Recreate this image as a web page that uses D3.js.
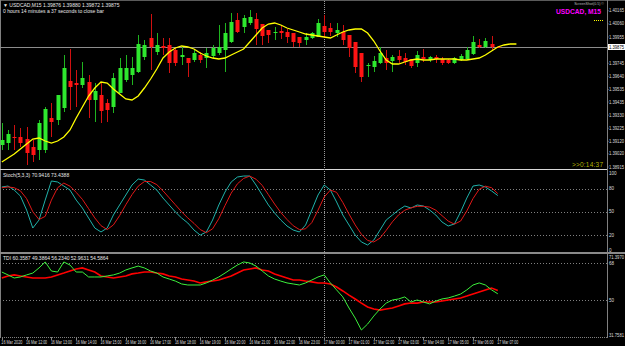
<!DOCTYPE html>
<html>
<head>
<meta charset="utf-8">
<script src="https://cdn.jsdelivr.net/npm/d3@7"></script>
<style>
html, body { margin: 0; padding: 0; background: #000; overflow: hidden; }
svg { display: block; }
text { font-family: "Liberation Sans", Arial, sans-serif; }
</style>
</head>
<body>
<svg id="chart" width="625" height="346"></svg>
<script>
// USDCAD M15, 16 Mar 11:00 -> 17 Mar 07:00 (81 bars)
const opens = [1.39091,1.39107,1.39155,1.39155,1.39139,1.39075,1.39051,1.39051,1.39307,1.39291,
  1.39387,1.39603,1.39587,1.39571,1.39595,1.39451,1.39491,1.39427,1.39395,1.39507,
  1.39611,1.39651,1.39675,1.39795,1.39947,1.39835,1.39883,1.39891,1.39851,1.39795,
  1.39787,1.39771,1.39811,1.39787,1.39803,1.39827,1.39851,1.39915,1.40091,1.40035,
  1.40067,1.40099,1.40059,1.40011,1.39987,1.40003,1.39995,1.39987,1.39955,1.39931,
  1.39947,1.39955,1.40043,1.40027,1.39987,1.39995,1.39971,1.39915,1.39827,1.39723,
  1.39715,1.39747,1.39787,1.39763,1.39803,1.39787,1.39779,1.39747,1.39795,1.39771,
  1.39795,1.39779,1.39771,1.39747,1.39771,1.39779,1.39819,1.39891,1.39875,1.39899,1.39876];
const highs = [1.39267,1.39211,1.39251,1.39227,1.39235,1.39131,1.39291,1.39395,1.39427,1.39491,
  1.39811,1.39859,1.39691,1.39755,1.39651,1.39587,1.39587,1.39459,1.39667,1.39787,
  1.39811,1.39795,1.39971,1.39931,1.40139,1.39987,1.39947,1.39947,1.39867,1.39875,
  1.39787,1.39851,1.39835,1.39867,1.39891,1.40051,1.40067,1.40147,1.40147,1.40131,
  1.40171,1.40147,1.40059,1.40011,1.40035,1.40051,1.40019,1.39987,1.39955,1.39987,
  1.39995,1.40099,1.40131,1.40067,1.40067,1.40051,1.39971,1.39915,1.39827,1.39747,
  1.39803,1.39875,1.39851,1.39811,1.39851,1.39827,1.39779,1.39843,1.39859,1.39803,
  1.39811,1.39795,1.39779,1.39795,1.39819,1.39875,1.39963,1.39939,1.39947,1.39963,1.39880];
const lows = [1.39051,1.39051,1.39051,1.39075,1.38931,1.38955,1.38971,1.39027,1.39155,1.39251,
  1.39355,1.39371,1.39395,1.39547,1.39307,1.39275,1.39267,1.39275,1.39347,1.39507,
  1.39595,1.39571,1.39667,1.39771,1.39691,1.39811,1.39811,1.39667,1.39723,1.39731,
  1.39635,1.39755,1.39747,1.39707,1.39787,1.39811,1.39675,1.39907,1.39987,1.39987,
  1.40051,1.39891,1.39891,1.39907,1.39931,1.39939,1.39907,1.39875,1.39875,1.39891,
  1.39939,1.39955,1.39947,1.39963,1.39955,1.39891,1.39795,1.39667,1.39595,1.39635,
  1.39675,1.39739,1.39691,1.39675,1.39747,1.39731,1.39707,1.39715,1.39755,1.39755,
  1.39747,1.39731,1.39739,1.39739,1.39763,1.39771,1.39811,1.39867,1.39867,1.39843,1.39872];
const closes = [1.39131,1.39179,1.39147,1.39107,1.39027,1.39011,1.39267,1.39379,1.39275,1.39491,
  1.39707,1.39555,1.39571,1.39627,1.39451,1.39523,1.39363,1.39371,1.39627,1.39707,
  1.39707,1.39707,1.39899,1.39891,1.39875,1.39891,1.39867,1.39747,1.39747,1.39811,
  1.39747,1.39827,1.39771,1.39827,1.39867,1.39875,1.39987,1.40075,1.39995,1.40107,
  1.40115,1.40019,1.39963,1.39971,1.39995,1.39987,1.39955,1.39915,1.39907,1.39955,
  1.39987,1.40067,1.39995,1.39995,1.40011,1.39931,1.39867,1.39715,1.39635,1.39731,
  1.39763,1.39827,1.39747,1.39795,1.39771,1.39755,1.39723,1.39811,1.39779,1.39795,
  1.39779,1.39747,1.39747,1.39787,1.39803,1.39851,1.39915,1.39875,1.39923,1.39875,1.39875];

// moving average, drawn with a forward shift of 3 bars (84 points)
const maValues = [1.38955,1.38987,1.39019,1.39059,1.39099,1.39139,1.39147,1.39123,1.39107,1.39123,
  1.39155,1.39211,1.39307,1.39395,1.39483,1.39547,1.39595,1.39587,1.39539,1.39499,
  1.39459,1.39451,1.39483,1.39547,1.39619,1.39699,1.39787,1.39835,1.39867,1.39883,
  1.39875,1.39859,1.39827,1.39803,1.39787,1.39779,1.39787,1.39811,1.39835,1.39859,
  1.39915,1.39971,1.40027,1.40059,1.40067,1.40051,1.40027,1.40011,1.39995,1.39979,
  1.39971,1.39963,1.39955,1.39947,1.39971,1.39995,1.40011,1.40019,1.40019,1.39987,
  1.39923,1.39843,1.39771,1.39739,1.39739,1.39755,1.39771,1.39779,1.39771,1.39771,
  1.39779,1.39779,1.39779,1.39779,1.39771,1.39771,1.39779,1.39787,1.39811,1.39843,
  1.39875,1.39891,1.39899,1.39899];

const stochMain = [81.9,83.2,78.0,70.3,52.2,29.0,39.3,65.1,89.7,88.4,
  83.2,78.0,65.1,54.8,41.9,29.0,23.9,29.0,45.8,58.7,
  71.6,84.5,92.2,90.9,84.5,78.0,67.7,58.7,49.7,41.9,
  35.5,26.4,19.9,23.9,39.3,58.7,75.5,88.4,94.8,96.1,
  96.1,84.5,71.6,58.7,48.4,39.3,31.6,26.4,23.9,32.9,
  52.2,71.6,84.5,78.0,62.6,45.8,32.9,19.9,11.0,7.1,
  13.5,26.4,39.3,45.8,52.2,57.4,54.8,58.7,57.4,52.2,
  45.8,36.8,31.6,34.2,49.7,67.7,83.2,84.5,81.9,76.8,70.9];
const stochSignal = [81,82,81,77,67,50,40,44,65,81,
  87,83,75,66,54,42,32,27,33,45,
  59,72,83,89,89,85,77,68,59,50,
  42,35,27,23,28,41,58,74,86,93,
  96,92,84,72,60,49,40,32,27,28,
  36,52,69,78,75,62,47,33,21,13,
  11,16,26,37,46,52,55,57,57,56,
  52,45,38,34,38,51,67,79,83,81,73.4];

const tdiGreen = [63.6,62.2,60.7,61.2,62.2,63.1,65.6,68.5,64.1,63.6,
  68.5,67.0,63.6,63.6,61.2,61.2,61.2,61.7,62.2,63.1,
  64.6,65.6,66.5,65.6,64.1,63.1,61.2,60.2,59.2,57.8,
  57.3,57.3,57.3,58.3,59.7,61.2,63.1,65.1,67.0,68.5,
  68.0,66.5,64.1,61.7,60.2,59.2,58.3,57.8,57.3,58.3,
  59.7,61.2,62.2,58.3,54.9,51.5,46.1,41.2,35.4,38.3,
  42.2,45.6,48.5,50.0,50.5,51.5,49.0,50.0,49.0,48.1,
  49.5,50.5,51.0,51.9,52.9,54.9,57.3,58.3,57.3,54.9,53.0];
const tdiRed = [60.7,61.7,62.2,61.7,61.2,60.7,60.7,60.7,61.2,62.2,
  63.1,64.1,65.1,65.6,64.6,63.6,61.7,61.2,60.7,61.2,
  61.7,62.7,63.1,63.6,63.6,63.1,62.7,61.7,61.2,60.2,
  59.7,59.2,58.3,58.8,59.2,59.7,60.7,61.7,63.1,64.6,
  65.1,65.6,64.6,64.1,62.7,61.7,60.7,59.7,59.7,59.2,
  58.8,58.3,58.3,57.8,56.3,54.4,52.4,50.5,48.5,46.6,
  45.6,45.1,45.6,46.1,47.1,48.1,48.5,48.5,49.0,49.0,
  49.0,49.5,50.0,50.5,51.0,51.9,52.9,53.9,54.9,55.8,54.6];

const timeLabels = ["16 Mar 2020","16 Mar 12:00","16 Mar 13:00","16 Mar 14:00","16 Mar 15:00",
  "16 Mar 16:00","16 Mar 17:00","16 Mar 18:00","16 Mar 19:00","16 Mar 20:00","16 Mar 21:00",
  "16 Mar 22:00","16 Mar 23:00","17 Mar 00:00","17 Mar 01:00","17 Mar 02:00","17 Mar 03:00",
  "17 Mar 04:00","17 Mar 05:00","17 Mar 06:00","17 Mar 07:00"];
const priceTicks = [1.40165,1.40060,1.39955,1.39745,1.39640,1.39535,1.39435,1.39330,1.39225,1.39120,1.39020,1.38915];
const stochLevels = [80, 50, 20];
const stochTicks = [100, 80, 50, 20, 0];
const tdiLevels = [68, 50];
const tdiTicks = [68, 50];
const tdiRangeLabels = ["71.3970", "31.7581"];
const lastPrice = 1.39875;
const maShift = 3;
const separatorBar = 52; // 17 Mar 00:00

const svg = d3.select("#chart");
const W = 625, H = 346;
const axisX = 607;
const gridGray = "#808080";
const labelColor = "#dcdcdc";

svg.append("rect").attr("width", W).attr("height", H).attr("fill", "#000");

const x = d3.scaleLinear().domain([0, 80]).range([1.8, 497.8]);
const yPrice = d3.scaleLinear().domain([1.38899, 1.40227]).range([169, 3]);
const yStoch = d3.scaleLinear().domain([0, 100]).range([250.5, 173]);
const yTdi = d3.scaleLinear().domain([32, 71.4]).range([337, 256]);

// frame
svg.append("line").attr("x1", 0).attr("x2", W).attr("y1", 0.5).attr("y2", 0.5).attr("stroke", "#5a5a5a");
svg.append("line").attr("x1", 0.5).attr("x2", 0.5).attr("y1", 0).attr("y2", 338).attr("stroke", gridGray);
svg.append("line").attr("x1", axisX + 0.5).attr("x2", axisX + 0.5).attr("y1", 0).attr("y2", 338).attr("stroke", gridGray);
svg.append("line").attr("x1", 0).attr("x2", axisX).attr("y1", 169.5).attr("y2", 169.5).attr("stroke", "#d8d8d8");
svg.append("rect").attr("x", 0).attr("y", 252).attr("width", W).attr("height", 2).attr("fill", "#8a8a8a");
svg.append("line").attr("x1", 0).attr("x2", axisX).attr("y1", 337.5).attr("y2", 337.5)
  .attr("stroke", gridGray).attr("stroke-dasharray", "1,1");

// level lines
svg.selectAll(".slevel").data(stochLevels).enter().append("line")
  .attr("x1", 0).attr("x2", axisX)
  .attr("y1", d => Math.round(yStoch(d)) + 0.5).attr("y2", d => Math.round(yStoch(d)) + 0.5)
  .attr("stroke", gridGray).attr("stroke-dasharray", "1,2");
svg.selectAll(".tlevel").data(tdiLevels).enter().append("line")
  .attr("x1", 0).attr("x2", axisX)
  .attr("y1", d => Math.round(yTdi(d)) + 0.5).attr("y2", d => Math.round(yTdi(d)) + 0.5)
  .attr("stroke", gridGray).attr("stroke-dasharray", "1,2");

// day separator
svg.append("line").attr("x1", Math.round(x(separatorBar)) + 0.5).attr("x2", Math.round(x(separatorBar)) + 0.5)
  .attr("y1", 1).attr("y2", 337).attr("stroke", "#9a9a9a").attr("stroke-dasharray", "1,1");

// current price line
svg.append("line").attr("x1", 0).attr("x2", axisX).attr("y1", Math.round(yPrice(lastPrice)) + 0.5)
  .attr("y2", Math.round(yPrice(lastPrice)) + 0.5).attr("stroke", "#8c8c8c");

// candles
const bars = d3.range(opens.length);
const bull = "#2ee82e", bear = "#ff1414";
svg.selectAll(".wick").data(bars).enter().append("line")
  .attr("x1", i => Math.round(x(i)) + 0.5).attr("x2", i => Math.round(x(i)) + 0.5)
  .attr("y1", i => yPrice(highs[i])).attr("y2", i => yPrice(lows[i]))
  .attr("stroke", i => closes[i] >= opens[i] ? "#1fb41f" : "#d01010").attr("stroke-width", 1);
svg.selectAll(".body").data(bars).enter().append("rect")
  .attr("x", i => Math.round(x(i)) - 1.5)
  .attr("width", 4)
  .attr("y", i => yPrice(Math.max(opens[i], closes[i])))
  .attr("height", i => Math.max(1, Math.abs(yPrice(opens[i]) - yPrice(closes[i]))))
  .attr("fill", i => closes[i] >= opens[i] ? bull : bear);

// moving average
const maLine = d3.line().x((d, i) => x(i)).y(d => yPrice(d));
svg.append("path").datum(maValues).attr("d", maLine)
  .attr("fill", "none").attr("stroke", "#ffff00").attr("stroke-width", 1.3);

// stochastic
const stLine = d3.line().x((d, i) => x(i)).y(d => yStoch(d));
svg.append("path").datum(stochMain).attr("d", stLine)
  .attr("fill", "none").attr("stroke", "#20b2aa").attr("stroke-width", 1);
svg.append("path").datum(stochSignal).attr("d", stLine)
  .attr("fill", "none").attr("stroke", "#e01818").attr("stroke-width", 1);

// TDI
const tdLine = d3.line().x((d, i) => x(i)).y(d => yTdi(d));
svg.append("path").datum(tdiRed).attr("d", tdLine)
  .attr("fill", "none").attr("stroke", "#ff0000").attr("stroke-width", 1.6);
svg.append("path").datum(tdiGreen).attr("d", tdLine)
  .attr("fill", "none").attr("stroke", "#3cf03c").attr("stroke-width", 1);

// price axis labels
function axisText(sel, w) {
  return sel.attr("font-size", 4.6).attr("fill", labelColor)
    .attr("textLength", w).attr("lengthAdjust", "spacingAndGlyphs");
}
axisText(svg.selectAll(".ptick").data(priceTicks).enter().append("text")
  .attr("x", axisX + 2).attr("y", d => yPrice(d) + 1.6).text(d => d.toFixed(5)), 15);
svg.selectAll(".ptickm").data(priceTicks).enter().append("line")
  .attr("x1", axisX).attr("x2", axisX + 1.5).attr("y1", d => yPrice(d)).attr("y2", d => yPrice(d))
  .attr("stroke", gridGray);
svg.append("rect").attr("x", axisX + 1).attr("y", yPrice(lastPrice) - 3).attr("width", 17).attr("height", 6).attr("fill", "#fff");
axisText(svg.append("text").attr("x", axisX + 2).attr("y", yPrice(lastPrice) + 1.7), 15)
  .attr("fill", "#000").text(lastPrice.toFixed(5));

svg.selectAll(".stick").data(stochTicks).enter().append("text")
  .attr("x", axisX + 2).attr("y", d => yStoch(d) + 1.6)
  .attr("font-size", 4.6).attr("fill", labelColor).text(d => d);
svg.selectAll(".ttick").data(tdiTicks).enter().append("text")
  .attr("x", axisX + 2).attr("y", d => yTdi(d) + 1.6)
  .attr("font-size", 4.6).attr("fill", labelColor).text(d => d);
axisText(svg.append("text").attr("x", axisX + 2).attr("y", 258.5), 15).text(tdiRangeLabels[0]);
axisText(svg.append("text").attr("x", axisX + 2).attr("y", 336.5), 15).text(tdiRangeLabels[1]);

// time axis
const timeIdx = timeLabels.map((t, k) => k * 4);
svg.selectAll(".tmark").data(timeIdx).enter().append("line")
  .attr("x1", i => Math.round(x(i)) + 0.5).attr("x2", i => Math.round(x(i)) + 0.5)
  .attr("y1", 337).attr("y2", 340).attr("stroke", gridGray);
svg.selectAll(".tlabel").data(timeIdx).enter().append("text")
  .attr("x", i => x(i) - 0.5).attr("y", 344)
  .attr("font-size", 4.6).attr("fill", labelColor)
  .attr("textLength", 21).attr("lengthAdjust", "spacingAndGlyphs")
  .text((i, k) => timeLabels[k]);

// headers
svg.append("text").attr("x", 3).attr("y", 6.5).attr("font-size", 5).attr("fill", "#e8e8e8")
  .text("\u25BC USDCAD,M15  1.39876 1.39880 1.39872 1.39875");
svg.append("text").attr("x", 3).attr("y", 13).attr("font-size", 5).attr("fill", "#e8e8e8")
  .text("0 hours 14 minutes a 37 seconds to close bar");
svg.append("text").attr("x", 3).attr("y", 176.5).attr("font-size", 5).attr("fill", "#e8e8e8")
  .text("Stoch(5,3,3) 70.9416 73.4388");
svg.append("text").attr("x", 3).attr("y", 259.5).attr("font-size", 5).attr("fill", "#e8e8e8")
  .text("TDI 60.3587 49.3864 56.2340 52.9631 54.5864");

svg.append("text").attr("x", 604).attr("y", 4.5).attr("text-anchor", "end").attr("font-size", 3.6)
  .attr("fill", "#bbbbbb").text("ScreenShot(0.5) \u00A9");
svg.append("text").attr("x", 556).attr("y", 13.5).attr("font-size", 7.6)
  .attr("font-weight", "bold").attr("fill", "#ff00ff")
  .attr("textLength", 45).attr("lengthAdjust", "spacingAndGlyphs").text("USDCAD, M15");
svg.append("line").attr("x1", 594).attr("x2", 603).attr("y1", 20.5).attr("y2", 20.5)
  .attr("stroke", "#ffff00").attr("stroke-dasharray", "1,1");
svg.append("text").attr("x", 572).attr("y", 166.5).attr("font-size", 6.5)
  .attr("fill", "#b4b400").attr("textLength", 31).attr("lengthAdjust", "spacing").text(">>0:14:37");
</script>
</body>
</html>
